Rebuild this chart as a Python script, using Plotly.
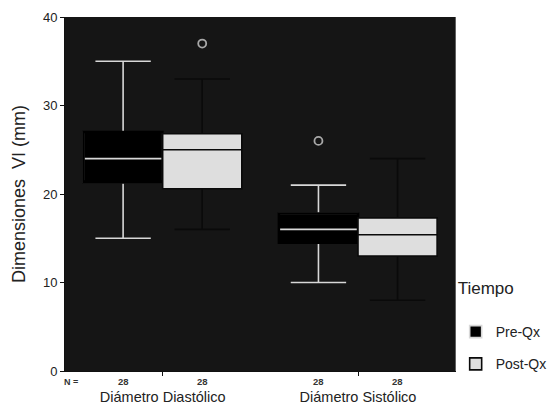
import plotly.graph_objects as go

categories = ["Diámetro Diastólico", "Diámetro Sistólico"]

# Pre-Qx box statistics
pre_low = [15, 10]
pre_q1 = [21.3, 14.5]
pre_med = [24, 16]
pre_q3 = [27, 17.8]
pre_high = [35, 21]

# Post-Qx box statistics
post_low = [16, 8]
post_q1 = [20.6, 13.0]
post_med = [25, 15.4]
post_q3 = [26.8, 17.3]
post_high = [33, 24]

# Outliers
pre_out_x = ["Diámetro Sistólico"]
pre_out_y = [26]
post_out_x = ["Diámetro Diastólico"]
post_out_y = [37]

# N per group
n_pre = [28, 28]
n_post = [28, 28]

FONT = "Liberation Sans, Arial, sans-serif"
BOXGAP = 0.19

fig = go.Figure()

# Pre-Qx: white whiskers/median, black box
fig.add_trace(go.Box(
    name="Pre-Qx", x=categories, q1=pre_q1, median=pre_med, q3=pre_q3,
    lowerfence=pre_low, upperfence=pre_high, offsetgroup="pre",
    fillcolor="#000000", line=dict(color="#d8d8d8", width=1.6),
    whiskerwidth=0.7, boxpoints=False, showlegend=True, legendgroup="pre"))
# cover the white outline of the Pre box with a black one
fig.add_trace(go.Box(
    name="Pre-Qx", x=categories, q1=pre_q1, median=pre_q1, q3=pre_q3,
    lowerfence=pre_q1, upperfence=pre_q3, offsetgroup="pre",
    fillcolor="rgba(0,0,0,0)", line=dict(color="#000000", width=2.5),
    whiskerwidth=0, boxpoints=False, showlegend=False, legendgroup="pre"))
# Post-Qx
fig.add_trace(go.Box(
    name="Post-Qx", x=categories, q1=post_q1, median=post_med, q3=post_q3,
    lowerfence=post_low, upperfence=post_high, offsetgroup="post",
    fillcolor="#dedede", line=dict(color="#0a0a0a", width=1.6),
    whiskerwidth=0.7, boxpoints=False, showlegend=True, legendgroup="post"))

# Outliers
fig.add_trace(go.Scatter(
    x=pre_out_x, y=pre_out_y, mode="markers", offsetgroup="pre",
    marker=dict(symbol="circle-open", size=8, color="#a8a8a8", line=dict(width=1.8)),
    showlegend=False, cliponaxis=False))
fig.add_trace(go.Scatter(
    x=post_out_x, y=post_out_y, mode="markers", offsetgroup="post",
    marker=dict(symbol="circle-open", size=8, color="#a8a8a8", line=dict(width=1.8)),
    showlegend=False, cliponaxis=False))

# N row, placed at the box centres (category index -/+ quarter of group width)
off = (1 - BOXGAP) / 4
for i, (a, b) in enumerate(zip(n_pre, n_post)):
    for xv, txt in ((i - off, a), (i + off, b)):
        fig.add_annotation(text=f"<b>{txt}</b>", xref="x", yref="paper", x=xv, y=-0.03,
                           yanchor="middle", showarrow=False,
                           font=dict(family=FONT, size=9.5, color="#333"))
fig.add_annotation(text="<b>N =</b>", xref="paper", yref="paper", x=-0.008, y=-0.03,
                   yanchor="middle", showarrow=False, xanchor="left",
                   font=dict(family=FONT, size=9, color="#333"))

fig.update_layout(
    width=549, height=412,
    margin=dict(l=65, r=90, t=17, b=41),
    paper_bgcolor="white", plot_bgcolor="#151515",
    boxmode="group", boxgap=BOXGAP, boxgroupgap=0,
    scattermode="group", scattergap=BOXGAP,
    font=dict(family=FONT, color="#222"),
    legend=dict(
        title=dict(text="Tiempo<br><span style='font-size:25px'> </span>",
                   font=dict(size=17, color="#222")),
        xref="container", yref="container",
        x=0.83, xanchor="left", y=0.078, yanchor="bottom",
        font=dict(size=14, color="#222"),
        traceorder="grouped", tracegroupgap=11,
        bgcolor="rgba(0,0,0,0)"),
    xaxis=dict(
        type="category", range=[-0.5, 1.5], automargin=False,
        showgrid=False, zeroline=False,
        showline=True, linecolor="#111", linewidth=1,
        ticks="outside", ticklen=4, tickcolor="#111",
        ticklabelstandoff=9,
        tickfont=dict(size=14.5, color="#222")),
    yaxis=dict(
        range=[0, 40], tickvals=[0, 10, 20, 30, 40], automargin=False,
        showgrid=False, zeroline=False,
        showline=True, linecolor="#111", linewidth=1,
        ticks="outside", ticklen=4, tickcolor="#111",
        tickfont=dict(size=13, color="#222"),
        title=dict(text="Dimensiones\u00a0 VI (mm)", font=dict(size=18, color="#222"),
                   standoff=12)),
)

fig.write_html("out.html")
